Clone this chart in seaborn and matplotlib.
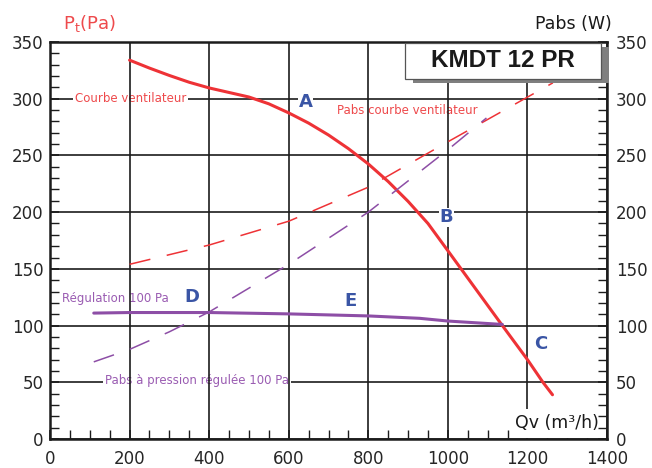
import matplotlib
matplotlib.use('Agg')
import matplotlib.pyplot as plt
import seaborn as sns
import pandas as pd
from matplotlib.patches import Rectangle
from matplotlib.ticker import MultipleLocator

# fan curve, pressure (Pa)
qv_fan = [200, 250, 300, 350, 400, 450, 500, 550, 600, 650, 700, 750, 800,
          850, 900, 950, 1000, 1137, 1200, 1239, 1263]
pt_fan = [334, 327, 320.5, 314.5, 309.5, 305.5, 301.5, 295.5, 287.5, 278.5, 268, 256, 242.5,
          227, 209.5, 190, 166, 100, 70, 50, 39]

# absorbed power on the fan curve (W)
qv_fan_pabs = [200, 400, 600, 800, 1000, 1264]
pabs_fan = [154, 171, 192, 222, 262, 314]

# regulation at 100 Pa
qv_reg = [110, 200, 400, 600, 800, 929, 1000, 1137]
pt_reg = [111, 111.5, 111.5, 110.3, 108.5, 106.4, 104, 101]

# absorbed power with pressure regulated at 100 Pa (W)
qv_reg_pabs = [110, 200, 300, 400, 600, 800, 1000, 1097]
pabs_reg = [68, 79, 94.5, 112, 154, 200, 255, 283]

points = ['A', 'B', 'C', 'D', 'E']
points_qv = [642, 996, 1234, 357, 756]
points_p = [297.5, 195.3, 84, 125.2, 122]

RED = '#ee3236'
RED_TXT = '#ee4a4c'
PURPLE = '#8d4ea6'
PURPLE_TXT = '#9a5cb2'
BLUE = '#3a55a5'
GRID = '#1c1c1c'

sns.set_style('white')
plt.rcParams['font.family'] = ['DejaVu Sans']

fig = plt.figure(figsize=(6.52, 4.68), dpi=100)
ax = fig.add_axes([50/652, 29/468, 557/652, 397/468])
ax2 = ax.twinx()

df_fan = pd.DataFrame({'qv': qv_fan, 'p': pt_fan})
df_reg = pd.DataFrame({'qv': qv_reg, 'p': pt_reg})
df_fan_pabs = pd.DataFrame({'qv': qv_fan_pabs, 'p': pabs_fan})
df_reg_pabs = pd.DataFrame({'qv': qv_reg_pabs, 'p': pabs_reg})

sns.lineplot(data=df_fan, x='qv', y='p', ax=ax, color=RED, lw=2.2, legend=False)
sns.lineplot(data=df_reg, x='qv', y='p', ax=ax, color=PURPLE, lw=2.2, legend=False)
sns.lineplot(data=df_fan_pabs, x='qv', y='p', ax=ax2, color=RED, lw=1.1,
             linestyle=(0, (14, 11)), legend=False)
sns.lineplot(data=df_reg_pabs, x='qv', y='p', ax=ax2, color=PURPLE, lw=1.1,
             linestyle=(0, (14, 11)), legend=False)

for a in (ax, ax2):
    a.set_xlim(0, 1400)
    a.set_ylim(0, 350)
    a.set_xlabel('')
    a.set_ylabel('')
    a.yaxis.set_major_locator(MultipleLocator(50))
    a.yaxis.set_minor_locator(MultipleLocator(10))

ax.xaxis.set_major_locator(MultipleLocator(200))
ax.xaxis.set_minor_locator(MultipleLocator(50))
ax.grid(True, which='major', color=GRID, lw=1.2)
ax.set_axisbelow(True)
ax.xaxis.set_zorder(1.5)

for s in ax.spines.values():
    s.set_linewidth(1.8)
    s.set_color(GRID)
for s in ax2.spines.values():
    s.set_visible(False)

ax.tick_params(which='both', direction='in', color=GRID, top=False, right=False,
               left=True, bottom=True)
ax.tick_params(which='minor', length=6.5, width=1)
ax.tick_params(which='major', length=6.5, width=1.2, labelsize=12)
ax.tick_params(axis='y', which='major', pad=4.5)
ax.tick_params(axis='x', which='major', pad=8)
ax2.tick_params(which='both', direction='in', color=GRID, right=True, left=False)
ax2.tick_params(which='minor', length=6.5, width=1)
ax2.tick_params(which='major', length=6.5, width=1.2, labelsize=12, pad=6.5)

white = dict(facecolor='white', edgecolor='none', pad=1.5)
ax.text(202.7, 299.8, 'Courbe ventilateur', color=RED_TXT, fontsize=8.5,
        ha='center', va='center', bbox=white, zorder=1)
ax.text(898.7, 289.2, 'Pabs courbe ventilateur', color=RED_TXT, fontsize=8.5,
        ha='center', va='center', bbox=white, zorder=1)
ax.text(164, 124.3, 'Régulation 100 Pa', color=PURPLE_TXT, fontsize=8.5,
        ha='center', va='center', bbox=white, zorder=1)
ax.text(368.6, 52, 'Pabs à pression régulée 100 Pa', color=PURPLE_TXT, fontsize=8.5,
        ha='center', va='center', bbox=white, zorder=1)

for lab, qx, py in zip(points, points_qv, points_p):
    ax.text(qx, py, lab, color=BLUE, fontsize=13, fontweight='bold',
            ha='center', va='center', zorder=4,
            bbox=dict(facecolor='white', edgecolor='none', pad=0.5))

ax.text(1170, 9.4, 'Qv (m³/h)', fontsize=12.5, color='#1a1a1a', ha='left',
        va='baseline', zorder=4,
        bbox=dict(facecolor='white', edgecolor='none', pad=4))

fig.text(62.7/652, 1-29/468, r'P$_{\mathregular{t}}$(Pa)', color=RED_TXT, fontsize=13,
         ha='left', va='baseline')
fig.text(611.7/652, 1-29.3/468, 'Pabs (W)', color='#1a1a1a', fontsize=12.5,
         ha='right', va='baseline')

# title box with shadow
fig.add_artist(Rectangle((413/652, 1-82.7/468), 195.7/652, 36/468,
                         transform=fig.transFigure, facecolor='#7f7f7f',
                         edgecolor='none', zorder=5))
fig.add_artist(Rectangle((405/652, 1-78.7/468), 195.7/652, 36/468,
                         transform=fig.transFigure, facecolor='white',
                         edgecolor='#555555', lw=0.9, zorder=6))
fig.text(503/652, 1-60.7/468, 'KMDT 12 PR', fontsize=17.5, fontweight='bold',
         family='Liberation Sans', color='#1a1a1a', ha='center', va='center', zorder=7)

fig.savefig('out.png', dpi=100)
